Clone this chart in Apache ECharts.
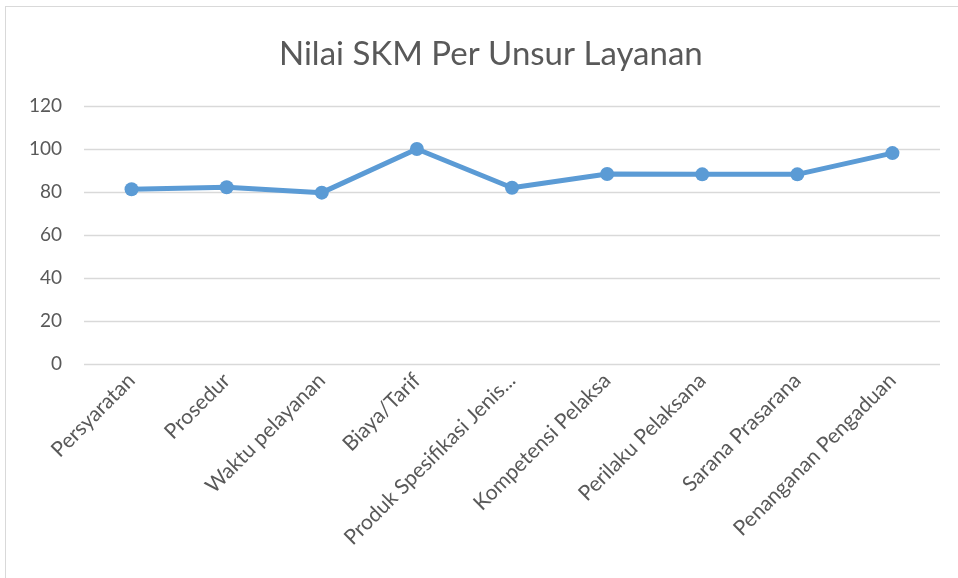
<!DOCTYPE html>
<html><head><meta charset="utf-8">
<script src="https://cdn.jsdelivr.net/npm/echarts@6/dist/echarts.min.js"></script>
<style>html,body{margin:0;padding:0;background:#fff}#frame{position:absolute;left:5px;top:6px;width:960px;height:580px;border:1px solid #d9d9d9;box-sizing:border-box}#c{position:absolute;left:0;top:0;width:958px;height:578px}</style>
</head><body><div id="frame"></div><div id="c"></div>
<script>
const categories = ["Persyaratan","Prosedur","Waktu pelayanan","Biaya/Tarif","Produk Spesifikasi Jenis...","Kompetensi Pelaksa","Perilaku Pelaksana","Sarana Prasarana","Penanganan Pengaduan"];
const values = [81.3, 82.2, 79.7, 100, 82.0, 88.4, 88.2, 88.2, 98.1];
const yTicks = {min: 0, max: 120, interval: 20};
const chart = echarts.init(document.getElementById('c'));
chart.setOption({
  animation: false,
  title: {text: 'Nilai SKM Per Unsur Layanan', left: 274, top: 33,
    textStyle: {fontFamily: 'Lato', fontSize: 33, fontWeight: 'normal', color: '#595959'}},
  grid: {left: 84, right: 18, top: 106, bottom: 214, containLabel: false},
  xAxis: {type: 'category', data: categories, boundaryGap: true,
    axisLine: {show: false}, axisTick: {show: false},
    axisLabel: {rotate: 45, interval: 0, margin: 13, fontFamily: 'Lato', fontSize: 21, color: '#595959'}},
  yAxis: {type: 'value', min: yTicks.min, max: yTicks.max, interval: yTicks.interval,
    axisLine: {show: false}, axisTick: {show: false},
    axisLabel: {margin: 22, fontFamily: 'Lato', fontSize: 19, color: '#595959'},
    splitLine: {lineStyle: {color: '#d9d9d9', width: 1.3}}},
  series: [{type: 'line', data: values, symbol: 'circle', symbolSize: 14,
    lineStyle: {color: '#5B9BD5', width: 5}, itemStyle: {color: '#5B9BD5'}}]
});
</script></body></html>
